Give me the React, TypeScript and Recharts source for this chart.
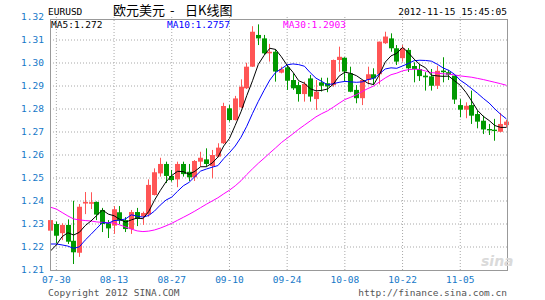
import React from "react";
import { ComposedChart, Bar, Line, XAxis, YAxis, CartesianGrid } from "recharts";

// daily candles 07-27 .. 11-15 (EURUSD)
const dates = [
  "07-27", "07-30", "07-31", "08-01", "08-02", "08-03", "08-06", "08-07", "08-08", "08-09",
  "08-10", "08-13", "08-14", "08-15", "08-16", "08-17", "08-20", "08-21", "08-22", "08-23",
  "08-24", "08-27", "08-28", "08-29", "08-30", "08-31", "09-03", "09-04", "09-05", "09-06",
  "09-07", "09-10", "09-11", "09-12", "09-13", "09-14", "09-17", "09-18", "09-19", "09-20",
  "09-21", "09-24", "09-25", "09-26", "09-27", "09-28", "10-01", "10-02", "10-03", "10-04",
  "10-05", "10-08", "10-09", "10-10", "10-11", "10-12", "10-15", "10-16", "10-17", "10-18",
  "10-19", "10-22", "10-23", "10-24", "10-25", "10-26", "10-29", "10-30", "10-31", "11-01",
  "11-02", "11-05", "11-06", "11-07", "11-08", "11-09", "11-12", "11-13", "11-14", "11-15",
];

const opens = [
  1.2271, 1.2300, 1.2260, 1.2296, 1.2227, 1.2175, 1.2389, 1.2388, 1.2396, 1.2361,
  1.2303, 1.2293, 1.2351, 1.2317, 1.2278, 1.2352, 1.2333, 1.2342, 1.2426, 1.2520,
  1.2561, 1.2509, 1.2494, 1.2561, 1.2527, 1.2503, 1.2571, 1.2581, 1.2552, 1.2593,
  1.2651, 1.2803, 1.2752, 1.2807, 1.2890, 1.2984, 1.3122, 1.3107, 1.3042, 1.3049,
  1.2958, 1.2981, 1.2926, 1.2904, 1.2865, 1.2933, 1.2843, 1.2916, 1.2912, 1.2904,
  1.3013, 1.3023, 1.2955, 1.2883, 1.2847, 1.2926, 1.2951, 1.2951, 1.3086, 1.3107,
  1.3064, 1.3021, 1.3057, 1.2987, 1.2974, 1.2945, 1.2942, 1.2901, 1.2967, 1.2960,
  1.2945, 1.2817, 1.2797, 1.2817, 1.2778, 1.2749, 1.2713, 1.2710, 1.2701, 1.2730,
];

const highs = [
  1.2346, 1.2310, 1.2303, 1.2320, 1.2401, 1.2387, 1.2439, 1.2438, 1.2398, 1.2370,
  1.2317, 1.2378, 1.2378, 1.2330, 1.2361, 1.2370, 1.2354, 1.2494, 1.2542, 1.2588,
  1.2571, 1.2535, 1.2571, 1.2571, 1.2561, 1.2578, 1.2614, 1.2629, 1.2622, 1.2651,
  1.2827, 1.2817, 1.2857, 1.2929, 1.3001, 1.3160, 1.3168, 1.3122, 1.3083, 1.3060,
  1.2984, 1.2991, 1.2955, 1.2919, 1.2919, 1.2948, 1.2926, 1.2936, 1.2936, 1.3015,
  1.3071, 1.3025, 1.2984, 1.2904, 1.2926, 1.2984, 1.2977, 1.3093, 1.3136, 1.3129,
  1.3078, 1.3078, 1.3065, 1.3003, 1.2995, 1.2960, 1.2974, 1.2988, 1.3025, 1.2970,
  1.2945, 1.2843, 1.2829, 1.2880, 1.2793, 1.2771, 1.2735, 1.2757, 1.2783, 1.2753,
];

const lows = [
  1.2238, 1.2216, 1.2230, 1.2213, 1.2126, 1.2157, 1.2343, 1.2365, 1.2317, 1.2265,
  1.2239, 1.2257, 1.2300, 1.2265, 1.2257, 1.2291, 1.2296, 1.2332, 1.2424, 1.2506,
  1.2478, 1.2484, 1.2460, 1.2506, 1.2487, 1.2487, 1.2549, 1.2549, 1.2499, 1.2590,
  1.2648, 1.2745, 1.2750, 1.2804, 1.2887, 1.2983, 1.3078, 1.3035, 1.3006, 1.2919,
  1.2955, 1.2883, 1.2883, 1.2832, 1.2832, 1.2832, 1.2796, 1.2876, 1.2873, 1.2897,
  1.2962, 1.2919, 1.2873, 1.2825, 1.2817, 1.2907, 1.2904, 1.2907, 1.3083, 1.3049,
  1.2991, 1.3006, 1.2961, 1.2916, 1.2922, 1.2880, 1.2880, 1.2887, 1.2916, 1.2926,
  1.2822, 1.2764, 1.2760, 1.2735, 1.2716, 1.2691, 1.2687, 1.2662, 1.2699, 1.2720,
];

const closes = [
  1.2317, 1.2249, 1.2296, 1.2223, 1.2177, 1.2375, 1.2396, 1.2395, 1.2341, 1.2300,
  1.2281, 1.2364, 1.2315, 1.2278, 1.2352, 1.2322, 1.2348, 1.2470, 1.2525, 1.2561,
  1.2509, 1.2491, 1.2561, 1.2517, 1.2503, 1.2574, 1.2588, 1.2561, 1.2600, 1.2632,
  1.2813, 1.2752, 1.2846, 1.2897, 1.2984, 1.3136, 1.3107, 1.3042, 1.3049, 1.2963,
  1.2973, 1.2923, 1.2890, 1.2865, 1.2909, 1.2854, 1.2875, 1.2901, 1.2898, 1.3013,
  1.3027, 1.2963, 1.2875, 1.2847, 1.2926, 1.2951, 1.2933, 1.3093, 1.3115, 1.3064,
  1.3006, 1.3064, 1.2977, 1.2974, 1.2943, 1.2938, 1.2901, 1.2966, 1.2960, 1.2949,
  1.2841, 1.2797, 1.2814, 1.2771, 1.2745, 1.2711, 1.2707, 1.2704, 1.2735, 1.2745,
];

const ma5 = [
  1.2183, 1.2209, 1.2245, 1.2262, 1.2252, 1.2264, 1.2293, 1.2313, 1.2337, 1.2361,
  1.2343, 1.2336, 1.2320, 1.2308, 1.2318, 1.2326, 1.2323, 1.2354, 1.2403, 1.2445,
  1.2483, 1.2511, 1.2529, 1.2528, 1.2516, 1.2529, 1.2549, 1.2549, 1.2565, 1.2591,
  1.2639, 1.2672, 1.2729, 1.2788, 1.2858, 1.2923, 1.2994, 1.3033, 1.3064, 1.3059,
  1.3027, 1.2990, 1.2960, 1.2923, 1.2912, 1.2888, 1.2879, 1.2881, 1.2887, 1.2908,
  1.2943, 1.2960, 1.2955, 1.2945, 1.2928, 1.2912, 1.2906, 1.2950, 1.3004, 1.3031,
  1.3042, 1.3068, 1.3045, 1.3017, 1.2993, 1.2979, 1.2947, 1.2944, 1.2942, 1.2943,
  1.2923, 1.2903, 1.2872, 1.2834, 1.2794, 1.2768, 1.2750, 1.2728, 1.2720, 1.2720,
];

const ma10 = [
  1.2213, 1.2213, 1.2209, 1.2204, 1.2194, 1.2201, 1.2230, 1.2255, 1.2281, 1.2307,
  1.2303, 1.2315, 1.2317, 1.2322, 1.2340, 1.2334, 1.2330, 1.2337, 1.2356, 1.2382,
  1.2404, 1.2417, 1.2442, 1.2466, 1.2481, 1.2506, 1.2530, 1.2539, 1.2547, 1.2554,
  1.2584, 1.2610, 1.2639, 1.2677, 1.2725, 1.2781, 1.2833, 1.2881, 1.2926, 1.2959,
  1.2975, 1.2992, 1.2996, 1.2993, 1.2986, 1.2958, 1.2934, 1.2920, 1.2905, 1.2910,
  1.2916, 1.2920, 1.2918, 1.2916, 1.2918, 1.2928, 1.2933, 1.2953, 1.2974, 1.2979,
  1.2977, 1.2987, 1.2998, 1.3010, 1.3012, 1.3011, 1.3008, 1.2995, 1.2979, 1.2968,
  1.2951, 1.2925, 1.2908, 1.2888, 1.2868, 1.2846, 1.2826, 1.2800, 1.2777, 1.2757,
];

const ma30 = [
  1.2373, 1.2365, 1.2350, 1.2335, 1.2322, 1.2318, 1.2315, 1.2313, 1.2309, 1.2307,
  1.2306, 1.2304, 1.2296, 1.2287, 1.2278, 1.2270, 1.2267, 1.2269, 1.2274, 1.2282,
  1.2292, 1.2303, 1.2316, 1.2329, 1.2342, 1.2356, 1.2371, 1.2386, 1.2400, 1.2414,
  1.2431, 1.2447, 1.2466, 1.2488, 1.2515, 1.2540, 1.2564, 1.2586, 1.2609, 1.2631,
  1.2654, 1.2673, 1.2692, 1.2712, 1.2730, 1.2748, 1.2766, 1.2780, 1.2792, 1.2808,
  1.2825, 1.2841, 1.2851, 1.2862, 1.2876, 1.2889, 1.2900, 1.2918, 1.2935, 1.2949,
  1.2956, 1.2966, 1.2971, 1.2973, 1.2972, 1.2965, 1.2958, 1.2956, 1.2953, 1.2952,
  1.2948, 1.2944, 1.2941, 1.2938, 1.2933, 1.2928, 1.2922, 1.2916, 1.2910, 1.2903,
];

const dateTicks = [1, 11, 21, 31, 41, 51, 61, 71];
const priceTicks = [1.21, 1.22, 1.23, 1.24, 1.25, 1.26, 1.27, 1.28, 1.29, 1.3, 1.31, 1.32];
const gridPrices = [1.22, 1.23, 1.24, 1.25, 1.26, 1.27, 1.28, 1.29, 1.3, 1.31];

const UP = "#FF5555";
const DOWN = "#009900";
const AXIS_BLUE = "#1478C8";
const MONO = "'DejaVu Sans Mono', 'Liberation Mono', monospace";
const CJK = "'Noto Sans CJK SC', 'Noto Sans', sans-serif";

const data = dates.map((d, i) => ({
  i,
  date: d,
  open: opens[i],
  high: highs[i],
  low: lows[i],
  close: closes[i],
  ma5: ma5[i],
  ma10: ma10[i],
  ma30: ma30[i],
}));

// eslint-disable-next-line @typescript-eslint/no-explicit-any
function Candle(props: any) {
  const { x, y, width, height, payload } = props;
  const { open, close, high, low } = payload;
  const color = close >= open ? UP : DOWN;
  const k = height / (high - low || 1);
  const yOpen = y + (high - open) * k;
  const yClose = y + (high - close) * k;
  const cx = Math.round(x + width / 2);
  const top = Math.min(yOpen, yClose);
  const bodyH = Math.max(Math.abs(yOpen - yClose), 1);
  return (
    <g>
      <line x1={cx + 0.5} x2={cx + 0.5} y1={y} y2={y + height} stroke={color} strokeWidth={1} />
      <rect x={cx - 2} y={top} width={5} height={bodyH} fill={color} />
    </g>
  );
}

export default function App() {
  const tickStyle = { fill: AXIS_BLUE, fontSize: 9.5, fontFamily: MONO };
  return (
    <div style={{ position: "absolute", left: 0, top: 0, width: 545, height: 300, background: "#fff" }}>
      <ComposedChart
        width={545}
        height={300}
        data={data}
        margin={{ top: 17, right: 38, bottom: 0, left: 0 }}
      >
        <CartesianGrid
          stroke="#A8A8A8"
          strokeDasharray="1 2"
          horizontalValues={gridPrices}
          verticalValues={dateTicks}
        />
        <XAxis
          type="number"
          dataKey="i"
          domain={[-0.1, 79.1]}
          ticks={dateTicks}
          interval={0}
          tickFormatter={(v: number) => dates[v]}
          tickLine={false}
          axisLine={false}
          tickSize={0}
          tickMargin={6}
          height={30}
          tick={tickStyle}
        />
        <YAxis
          type="number"
          domain={[1.21, 1.32]}
          ticks={priceTicks}
          interval={0}
          tickFormatter={(v: number) => v.toFixed(2)}
          tickLine={false}
          axisLine={false}
          tickSize={0}
          tickMargin={6}
          width={50}
          tick={tickStyle}
        />
        <Bar
          dataKey={(d: { low: number; high: number }) => [d.low, d.high]}
          barSize={5}
          shape={Candle}
          isAnimationActive={false}
        />
        <Line type="linear" dataKey="ma30" stroke="#FF00FF" strokeWidth={1} dot={false} isAnimationActive={false} />
        <Line type="linear" dataKey="ma10" stroke="#0000FF" strokeWidth={1} dot={false} isAnimationActive={false} />
        <Line type="linear" dataKey="ma5" stroke="#000000" strokeWidth={1} dot={false} isAnimationActive={false} />
      </ComposedChart>

      {/* plot frame */}
      <div
        style={{
          position: "absolute",
          left: 50,
          top: 19,
          width: 458,
          height: 252,
          boxSizing: "border-box",
          border: "1px solid #999",
          pointerEvents: "none",
        }}
      />

      <svg width={545} height={300} style={{ position: "absolute", left: 0, top: 0, pointerEvents: "none" }}>
        <text x={48} y={14.5} fontSize={9.5} fontFamily={MONO} fill="#000">EURUSD</text>
        <text x={113} y={15} fontSize={13} fontFamily={CJK} fill="#000">欧元美元</text>
        <text x={170} y={15} fontSize={13} fontFamily={CJK} fill="#000">-</text>
        <text x={185} y={15} fontSize={13} fontFamily={CJK} fill="#000">日K线图</text>
        <text x={507} y={14.5} fontSize={9.5} fontFamily={MONO} fill="#000" textAnchor="end">
          2012-11-15 15:45:05
        </text>

        <text x={51} y={27.5} fontSize={9.5} fontFamily={MONO} fill="#000">MA5:1.272</text>
        <text x={167} y={27.5} fontSize={9.5} fontFamily={MONO} fill="#0000FF">MA10:1.2757</text>
        <text x={283} y={27.5} fontSize={9.5} fontFamily={MONO} fill="#FF00FF">MA30:1.2903</text>

        <text x={481} y={266} fontSize={14} fontStyle="italic" fontWeight="bold" fontFamily="'DejaVu Sans', sans-serif" fill="#DADADA">
          sina
        </text>

        <text x={48} y={296} fontSize={9.5} fontFamily={MONO} fill="#555">Copyright 2012 SINA.COM</text>
        <text x={507} y={296} fontSize={9.5} fontFamily={MONO} fill="#555" textAnchor="end">
          http://finance.sina.com.cn
        </text>
      </svg>
    </div>
  );
}
